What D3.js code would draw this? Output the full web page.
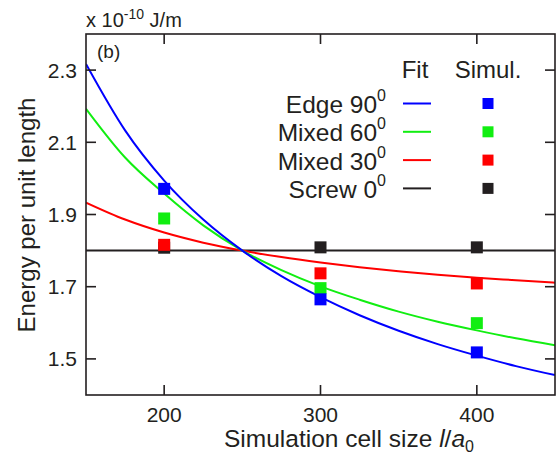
<!DOCTYPE html>
<html lang="en">
<head>
<meta charset="UTF-8">
<title>Energy per unit length</title>
<script src="https://d3js.org/d3.v7.min.js"></script>
<style>
  body { margin: 0; background: #fff; }
  svg text { font-family: "Liberation Sans", Arial, sans-serif; fill: #231f20; }
</style>
</head>
<body>
<svg id="chart" width="557" height="455"></svg>
<script>
// fit curves, sampled along cell size
const fitX = [150, 175, 200, 225, 250, 275, 300, 325, 350, 375, 400, 425, 450];
const edgeFit   = [2.317, 2.133, 1.994, 1.886, 1.800, 1.729, 1.671, 1.621, 1.578, 1.541, 1.509, 1.480, 1.455];
const mixed60Fit = [2.193, 2.058, 1.958, 1.870, 1.800, 1.746, 1.701, 1.664, 1.631, 1.603, 1.579, 1.557, 1.538];
const mixed30Fit = [1.933, 1.886, 1.850, 1.822, 1.800, 1.782, 1.767, 1.754, 1.743, 1.733, 1.725, 1.718, 1.711];
const screwFit  = [1.800, 1.800, 1.800, 1.800, 1.800, 1.800, 1.800, 1.800, 1.800, 1.800, 1.800, 1.800, 1.800];

// simulation points
const simX = [200, 300, 400];
const edgeSim    = [1.971, 1.665, 1.518];
const mixed60Sim = [1.889, 1.696, 1.599];
const mixed30Sim = [1.816, 1.737, 1.709];
const screwSim   = [1.808, 1.809, 1.809];

const seriesNames = ["Edge 90", "Mixed 60", "Mixed 30", "Screw 0"];
const xTicks = [200, 300, 400];
const yTicks = [1.5, 1.7, 1.9, 2.1, 2.3];

const series = [
  { name: seriesNames[0], fit: edgeFit, sim: edgeSim, color: "#0000ff" },
  { name: seriesNames[1], fit: mixed60Fit, sim: mixed60Sim, color: "#11ee11" },
  { name: seriesNames[2], fit: mixed30Fit, sim: mixed30Sim, color: "#ff0000" },
  { name: seriesNames[3], fit: screwFit, sim: screwSim, color: "#231f20" }
];

const svg = d3.select("#chart");
const pLeft = 86, pRight = 555, pTop = 34, pBottom = 395;

const x = d3.scaleLinear().domain([150, 450]).range([pLeft, pRight]);
const y = d3.scaleLinear().domain([1.4, 2.4]).range([pBottom, pTop]);

const plot = svg.append("g");
plot.append("clipPath").attr("id", "clip")
  .append("rect").attr("x", pLeft).attr("y", pTop).attr("width", pRight - pLeft).attr("height", pBottom - pTop);

const line = d3.line().curve(d3.curveMonotoneX).x(d => x(d[0])).y(d => y(d[1]));

// curves
series.slice().reverse().forEach(s => {
  plot.append("path")
    .datum(fitX.map((v, i) => [v, s.fit[i]]))
    .attr("clip-path", "url(#clip)")
    .attr("fill", "none")
    .attr("stroke", s.color)
    .attr("stroke-width", 2)
    .attr("d", line);
});

// squares
const sq = 12;
series.slice().reverse().forEach(s => {
  plot.selectAll(null)
    .data(simX.map((v, i) => [v, s.sim[i]]))
    .enter().append("rect")
    .attr("x", d => x(d[0]) - sq / 2)
    .attr("y", d => y(d[1]) - sq / 2)
    .attr("width", sq)
    .attr("height", sq)
    .attr("fill", s.color);
});

// axes with inward ticks on all four sides
const tickLen = 10;
const axisG = svg.append("g").attr("stroke", "#231f20").attr("stroke-width", 1.6);
axisG.append("rect").attr("x", pLeft).attr("y", pTop).attr("width", pRight - pLeft).attr("height", pBottom - pTop)
  .attr("fill", "none");

xTicks.forEach(t => {
  axisG.append("line").attr("x1", x(t)).attr("x2", x(t)).attr("y1", pBottom).attr("y2", pBottom - tickLen);
  axisG.append("line").attr("x1", x(t)).attr("x2", x(t)).attr("y1", pTop).attr("y2", pTop + tickLen);
});
yTicks.forEach(t => {
  axisG.append("line").attr("x1", pLeft).attr("x2", pLeft + tickLen).attr("y1", y(t)).attr("y2", y(t));
  axisG.append("line").attr("x1", pRight).attr("x2", pRight - tickLen).attr("y1", y(t)).attr("y2", y(t));
});

svg.append("g").selectAll("text").data(xTicks).enter().append("text")
  .attr("x", d => x(d)).attr("y", 422)
  .attr("text-anchor", "middle").attr("font-size", 21)
  .text(d => d);

svg.append("g").selectAll("text").data(yTicks).enter().append("text")
  .attr("x", 77).attr("y", d => y(d) + 7.5)
  .attr("text-anchor", "end").attr("font-size", 21)
  .text(d => d3.format(".1f")(d));

// axis titles
const xt = svg.append("text").attr("x", 349).attr("y", 447)
  .attr("text-anchor", "middle").attr("font-size", 24.5);
xt.append("tspan").text("Simulation cell size ");
xt.append("tspan").attr("font-style", "italic").text("l");
xt.append("tspan").text("/");
xt.append("tspan").attr("font-style", "italic").text("a");
xt.append("tspan").attr("font-size", 16).attr("dy", 5).text("0");

svg.append("text")
  .attr("transform", "translate(35,215) rotate(-90)")
  .attr("text-anchor", "middle").attr("font-size", 24)
  .text("Energy per unit length");

const unit = svg.append("text").attr("x", 86).attr("y", 27).attr("font-size", 20);
unit.append("tspan").text("x 10");
unit.append("tspan").attr("font-size", 14).attr("dy", -8).text("-10");
unit.append("tspan").attr("dy", 8).text(" J/m");

svg.append("text").attr("x", 97).attr("y", 58).attr("font-size", 19).text("(b)");

// legend
svg.append("text").attr("x", 415).attr("y", 78).attr("text-anchor", "middle").attr("font-size", 24).text("Fit");
svg.append("text").attr("x", 488).attr("y", 78).attr("text-anchor", "middle").attr("font-size", 24).text("Simul.");

series.forEach((s, i) => {
  const ly = 103.5 + i * 28.3;
  const t = svg.append("text").attr("x", 386).attr("y", ly + 9.5).attr("text-anchor", "end").attr("font-size", 24.5);
  t.append("tspan").text(s.name);
  t.append("tspan").attr("font-size", 16).attr("dy", -12).text("0");
  svg.append("line").attr("x1", 403).attr("x2", 431).attr("y1", ly).attr("y2", ly)
    .attr("stroke", s.color).attr("stroke-width", 2);
  svg.append("rect").attr("x", 488 - 5.5).attr("y", ly - 5.5).attr("width", 11).attr("height", 11)
    .attr("fill", s.color);
});
</script>
</body>
</html>
